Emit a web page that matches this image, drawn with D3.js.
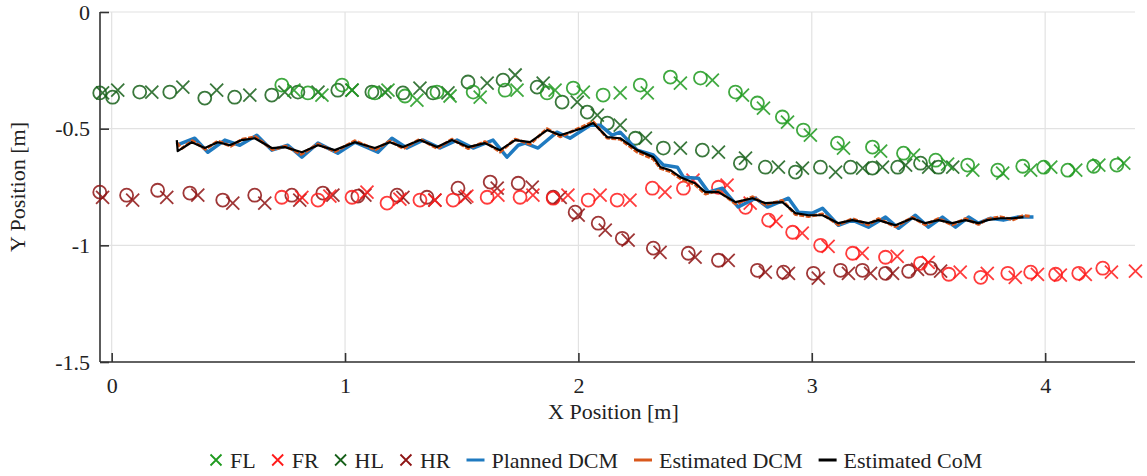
<!DOCTYPE html>
<html>
<head>
<meta charset="utf-8">
<script src="https://cdn.jsdelivr.net/npm/d3@7"></script>
<style>
  body { margin: 0; background: #fff; }
  text { font-family: "Liberation Serif", "Tinos", "Times New Roman", "DejaVu Serif", serif; fill: #222; }
</style>
</head>
<body>
<div id="chart"></div>
<script>
var svgWidth = 1147;
var svgHeight = 476;
var serifFont = "'Liberation Serif', 'Tinos', 'Times New Roman', 'DejaVu Serif', serif";

var margin = { top: 12, right: 12, bottom: 114, left: 100 };

// tick values
var xTicks = [0, 1, 2, 3, 4];
var yTicks = [0, -0.5, -1, -1.5];
var yTickLabels = ["0", "-0.5", "-1", "-1.5"];

// footholds: circles = o markers, crosses = x markers  [x, y] in metres
var flCircles = [[0.729,-0.313],[0.841,-0.347],[0.987,-0.313],[1.128,-0.347],[1.257,-0.360],[1.394,-0.343],[1.549,-0.343],[1.686,-0.335],[1.866,-0.347],[1.978,-0.326],[2.106,-0.356],[2.265,-0.313],[2.394,-0.279],[2.523,-0.283],[2.673,-0.343],[2.767,-0.390],[2.874,-0.450],[2.964,-0.506],[3.110,-0.562],[3.260,-0.579],[3.393,-0.605],[3.531,-0.635],[3.668,-0.656],[3.797,-0.678],[3.904,-0.661],[3.994,-0.665],[4.097,-0.678],[4.208,-0.661],[4.307,-0.656]];
var flCrosses = [[0.781,-0.335],[0.901,-0.356],[1.030,-0.335],[1.184,-0.335],[1.308,-0.378],[1.450,-0.360],[1.579,-0.365],[1.737,-0.335],[1.900,-0.335],[2.021,-0.343],[2.179,-0.347],[2.295,-0.347],[2.437,-0.305],[2.574,-0.292],[2.703,-0.356],[2.793,-0.412],[2.896,-0.472],[2.994,-0.528],[3.136,-0.583],[3.295,-0.596],[3.436,-0.613],[3.582,-0.652],[3.690,-0.678],[3.818,-0.691],[3.938,-0.678],[4.024,-0.665],[4.131,-0.678],[4.230,-0.656],[4.337,-0.648]];

var frCircles = [[0.729,-0.794],[0.884,-0.806],[1.030,-0.794],[1.180,-0.819],[1.321,-0.806],[1.463,-0.806],[1.609,-0.794],[1.750,-0.794],[1.892,-0.798],[2.042,-0.806],[2.166,-0.806],[2.317,-0.755],[2.450,-0.755],[2.600,-0.751],[2.716,-0.837],[2.815,-0.892],[2.918,-0.944],[3.038,-1.000],[3.175,-1.034],[3.316,-1.051],[3.466,-1.077],[3.587,-1.124],[3.724,-1.137],[3.840,-1.120],[3.938,-1.115],[4.045,-1.124],[4.144,-1.120],[4.247,-1.098]];
var frCrosses = [[0.815,-0.794],[0.935,-0.789],[1.094,-0.772],[1.235,-0.802],[1.385,-0.806],[1.522,-0.789],[1.655,-0.785],[1.805,-0.785],[1.955,-0.785],[2.093,-0.785],[2.221,-0.806],[2.371,-0.772],[2.491,-0.721],[2.637,-0.742],[2.736,-0.819],[2.847,-0.897],[2.959,-0.948],[3.070,-1.004],[3.216,-1.034],[3.366,-1.047],[3.499,-1.073],[3.636,-1.115],[3.752,-1.120],[3.872,-1.137],[3.967,-1.124],[4.065,-1.128],[4.172,-1.124],[4.284,-1.115],[4.387,-1.111]];

var hlCircles = [[-0.051,-0.347],[0.004,-0.365],[0.120,-0.343],[0.249,-0.343],[0.399,-0.369],[0.527,-0.365],[0.686,-0.356],[0.798,-0.343],[0.969,-0.335],[1.115,-0.343],[1.248,-0.347],[1.377,-0.347],[1.527,-0.300],[1.677,-0.292],[1.823,-0.322],[1.930,-0.386],[2.038,-0.429],[2.124,-0.476],[2.244,-0.541],[2.364,-0.583],[2.531,-0.592],[2.694,-0.648],[2.801,-0.665],[2.930,-0.686],[3.037,-0.665],[3.166,-0.665],[3.260,-0.669],[3.368,-0.665],[3.466,-0.648],[3.543,-0.665]];
var hlCrosses = [[-0.039,-0.347],[0.026,-0.335],[0.172,-0.343],[0.305,-0.322],[0.450,-0.335],[0.592,-0.356],[0.742,-0.343],[0.884,-0.343],[1.030,-0.335],[1.171,-0.343],[1.321,-0.326],[1.441,-0.347],[1.609,-0.305],[1.729,-0.270],[1.849,-0.305],[1.995,-0.386],[2.081,-0.442],[2.179,-0.485],[2.287,-0.541],[2.437,-0.583],[2.600,-0.601],[2.716,-0.626],[2.857,-0.665],[2.960,-0.669],[3.102,-0.686],[3.218,-0.669],[3.303,-0.665],[3.402,-0.656],[3.501,-0.665],[3.604,-0.665]];

var hrCircles = [[-0.051,-0.772],[0.064,-0.785],[0.197,-0.764],[0.335,-0.776],[0.476,-0.806],[0.613,-0.785],[0.772,-0.785],[0.905,-0.776],[1.055,-0.789],[1.223,-0.785],[1.351,-0.794],[1.484,-0.755],[1.622,-0.729],[1.742,-0.734],[1.892,-0.794],[1.986,-0.858],[2.085,-0.905],[2.188,-0.970],[2.321,-1.012],[2.471,-1.034],[2.600,-1.064],[2.767,-1.107],[2.879,-1.115],[3.007,-1.120],[3.123,-1.107],[3.217,-1.107],[3.316,-1.120],[3.415,-1.111],[3.509,-1.098]];
var hrCrosses = [[-0.039,-0.794],[0.090,-0.806],[0.236,-0.794],[0.369,-0.785],[0.519,-0.819],[0.656,-0.819],[0.806,-0.806],[0.948,-0.785],[1.085,-0.785],[1.248,-0.794],[1.385,-0.806],[1.514,-0.794],[1.652,-0.755],[1.802,-0.751],[1.922,-0.794],[1.999,-0.871],[2.115,-0.935],[2.213,-0.978],[2.350,-1.030],[2.500,-1.051],[2.642,-1.064],[2.801,-1.115],[2.900,-1.120],[3.028,-1.141],[3.157,-1.120],[3.252,-1.120],[3.346,-1.120],[3.453,-1.103],[3.552,-1.111]];

// trajectories
var plannedDcm = [[0.279,-0.571],[0.356,-0.541],[0.412,-0.601],[0.485,-0.549],[0.549,-0.571],[0.622,-0.528],[0.686,-0.592],[0.755,-0.571],[0.815,-0.622],[0.884,-0.562],[0.969,-0.605],[1.042,-0.558],[1.141,-0.601],[1.201,-0.541],[1.265,-0.583],[1.334,-0.549],[1.407,-0.583],[1.480,-0.549],[1.549,-0.583],[1.634,-0.549],[1.694,-0.622],[1.742,-0.571],[1.772,-0.562],[1.827,-0.583],[1.908,-0.515],[1.964,-0.541],[2.050,-0.485],[2.093,-0.485],[2.144,-0.528],[2.179,-0.515],[2.252,-0.592],[2.321,-0.613],[2.364,-0.656],[2.424,-0.665],[2.450,-0.708],[2.514,-0.712],[2.557,-0.772],[2.617,-0.755],[2.685,-0.836],[2.758,-0.798],[2.810,-0.836],[2.900,-0.798],[2.943,-0.858],[3.003,-0.862],[3.046,-0.841],[3.114,-0.914],[3.174,-0.892],[3.243,-0.922],[3.316,-0.879],[3.372,-0.927],[3.444,-0.871],[3.500,-0.922],[3.560,-0.879],[3.616,-0.922],[3.672,-0.879],[3.714,-0.905],[3.765,-0.884],[3.821,-0.892],[3.881,-0.879],[3.950,-0.879]];

var estimatedDcm = [[0.279,-0.560],[0.300,-0.585],[0.345,-0.552],[0.402,-0.588],[0.455,-0.553],[0.510,-0.575],[0.560,-0.545],[0.615,-0.535],[0.690,-0.590],[0.745,-0.575],[0.812,-0.610],[0.884,-0.566],[0.958,-0.598],[1.042,-0.552],[1.130,-0.590],[1.192,-0.553],[1.250,-0.585],[1.321,-0.545],[1.396,-0.585],[1.458,-0.545],[1.527,-0.585],[1.600,-0.556],[1.664,-0.600],[1.729,-0.545],[1.793,-0.566],[1.866,-0.500],[1.922,-0.535],[2.016,-0.492],[2.063,-0.470],[2.123,-0.540],[2.179,-0.545],[2.252,-0.600],[2.321,-0.630],[2.351,-0.670],[2.394,-0.684],[2.437,-0.714],[2.500,-0.740],[2.544,-0.780],[2.600,-0.766],[2.673,-0.822],[2.746,-0.792],[2.801,-0.826],[2.874,-0.808],[2.930,-0.868],[2.986,-0.876],[3.046,-0.866],[3.114,-0.912],[3.174,-0.886],[3.243,-0.912],[3.285,-0.886],[3.358,-0.920],[3.431,-0.880],[3.486,-0.912],[3.543,-0.886],[3.602,-0.912],[3.658,-0.886],[3.714,-0.910],[3.752,-0.888],[3.808,-0.878],[3.864,-0.890],[3.907,-0.872],[3.935,-0.876]];

var estimatedCom = [[0.279,-0.549],[0.283,-0.596],[0.343,-0.558],[0.399,-0.583],[0.455,-0.558],[0.506,-0.571],[0.557,-0.549],[0.613,-0.541],[0.686,-0.583],[0.742,-0.579],[0.815,-0.601],[0.884,-0.571],[0.956,-0.592],[1.042,-0.558],[1.128,-0.583],[1.192,-0.558],[1.248,-0.579],[1.321,-0.549],[1.394,-0.579],[1.458,-0.549],[1.527,-0.579],[1.600,-0.562],[1.664,-0.592],[1.729,-0.549],[1.793,-0.558],[1.866,-0.506],[1.922,-0.528],[2.016,-0.498],[2.063,-0.476],[2.123,-0.536],[2.179,-0.541],[2.252,-0.592],[2.321,-0.622],[2.351,-0.665],[2.394,-0.678],[2.437,-0.708],[2.500,-0.734],[2.544,-0.772],[2.600,-0.772],[2.673,-0.815],[2.746,-0.798],[2.801,-0.819],[2.874,-0.815],[2.930,-0.862],[2.986,-0.871],[3.046,-0.871],[3.114,-0.905],[3.174,-0.892],[3.243,-0.905],[3.285,-0.892],[3.358,-0.914],[3.431,-0.884],[3.486,-0.905],[3.543,-0.892],[3.602,-0.905],[3.658,-0.892],[3.714,-0.905],[3.752,-0.892],[3.808,-0.884],[3.864,-0.884],[3.907,-0.879]];

var colors = {
  FL: "#1f9a1f",
  FR: "#ff1a1a",
  HL: "#17601a",
  HR: "#8e1414",
  planned: "#1f7ac0",
  estDcm: "#d9581c",
  com: "#000000"
};

var width = svgWidth - margin.left - margin.right;
var height = svgHeight - margin.top - margin.bottom;

var svg = d3.select("#chart")
  .append("svg")
  .attr("width", svgWidth)
  .attr("height", svgHeight);

var chartGroup = svg.append("g")
  .attr("transform", `translate(${margin.left}, ${margin.top})`);

var xScale = d3.scaleLinear().domain([-0.05, 4.385]).range([0, width]);
var yScale = d3.scaleLinear().domain([-1.5, 0]).range([height, 0]);

// grid
chartGroup.append("g")
  .selectAll("line")
  .data(xTicks)
  .enter()
  .append("line")
  .attr("x1", d => xScale(d)).attr("x2", d => xScale(d))
  .attr("y1", 0).attr("y2", height)
  .attr("stroke", "#e2e2e2").attr("stroke-width", 1.2);

chartGroup.append("g")
  .selectAll("line")
  .data(yTicks)
  .enter()
  .append("line")
  .attr("x1", 0).attr("x2", width)
  .attr("y1", d => yScale(d)).attr("y2", d => yScale(d))
  .attr("stroke", "#e2e2e2").attr("stroke-width", 1.2);

// axes, ticks pointing inward
var bottomAxis = d3.axisBottom(xScale).tickValues(xTicks).tickSize(-9).tickPadding(15).tickFormat(d3.format("d"));
var leftAxis = d3.axisLeft(yScale).tickValues(yTicks).tickSize(-9).tickPadding(10)
  .tickFormat((d, i) => yTickLabels[i]);

var xAxis = chartGroup.append("g")
  .attr("transform", `translate(0, ${height})`)
  .call(bottomAxis);
var yAxis = chartGroup.append("g")
  .call(leftAxis);

[xAxis, yAxis].forEach(function(ax) {
  ax.attr("font-family", serifFont);
  ax.select(".domain").attr("stroke", "#333").attr("stroke-width", 1.6);
  ax.selectAll(".tick line").attr("stroke", "#333").attr("stroke-width", 1.6);
  ax.selectAll(".tick text")
    .style("font-family", serifFont)
    .style("font-size", "22px")
    .attr("fill", "#333");
});
xAxis.select(".domain").attr("d", `M0,0H${width}`);
yAxis.select(".domain").attr("d", `M0,0V${height}`);

// markers
function drawCircles(data, color) {
  chartGroup.append("g")
    .selectAll("circle")
    .data(data)
    .enter()
    .append("circle")
    .attr("cx", d => xScale(d[0]))
    .attr("cy", d => yScale(d[1]))
    .attr("r", 6.5)
    .attr("fill", "none")
    .attr("stroke", color)
    .attr("stroke-width", 1.8)
    .attr("opacity", 0.85);
}

function crossPath(cx, cy, s) {
  return `M${cx - s},${cy - s}L${cx + s},${cy + s}M${cx - s},${cy + s}L${cx + s},${cy - s}`;
}

function drawCrosses(data, color) {
  chartGroup.append("g")
    .selectAll("path")
    .data(data)
    .enter()
    .append("path")
    .attr("d", d => crossPath(xScale(d[0]), yScale(d[1]), 6.5))
    .attr("fill", "none")
    .attr("stroke", color)
    .attr("stroke-width", 1.8)
    .attr("opacity", 0.85);
}

drawCircles(hrCircles, colors.HR);
drawCrosses(hrCrosses, colors.HR);
drawCircles(frCircles, colors.FR);
drawCrosses(frCrosses, colors.FR);
drawCircles(hlCircles, colors.HL);
drawCrosses(hlCrosses, colors.HL);
drawCircles(flCircles, colors.FL);
drawCrosses(flCrosses, colors.FL);

// trajectories
var line = d3.line().x(d => xScale(d[0])).y(d => yScale(d[1]));

chartGroup.append("path")
  .datum(plannedDcm)
  .attr("d", line)
  .attr("fill", "none")
  .attr("stroke", colors.planned)
  .attr("stroke-width", 3.5)
  .attr("stroke-linejoin", "round");

chartGroup.append("path")
  .datum(estimatedDcm)
  .attr("d", line)
  .attr("fill", "none")
  .attr("stroke", colors.estDcm)
  .attr("stroke-width", 3)
  .attr("stroke-dasharray", "5,1.5")
  .attr("stroke-linejoin", "round");

chartGroup.append("path")
  .datum(estimatedCom)
  .attr("d", line)
  .attr("fill", "none")
  .attr("stroke", colors.com)
  .attr("stroke-width", 2.2)
  .attr("stroke-linejoin", "round");

// axis labels
svg.append("text")
  .attr("x", margin.left + xScale(2.15))
  .attr("y", 419)
  .attr("text-anchor", "middle")
  .style("font-family", serifFont)
  .style("font-size", "22px")
  .text("X Position [m]");

svg.append("text")
  .attr("transform", `translate(25, ${margin.top + yScale(-0.75)}) rotate(-90)`)
  .attr("text-anchor", "middle")
  .style("font-family", serifFont)
  .style("font-size", "22px")
  .text("Y Position [m]");

// legend
var legendItems = [
  { label: "FL", color: colors.FL, type: "cross" },
  { label: "FR", color: colors.FR, type: "cross" },
  { label: "HL", color: colors.HL, type: "cross" },
  { label: "HR", color: colors.HR, type: "cross" },
  { label: "Planned DCM", color: colors.planned, type: "line" },
  { label: "Estimated DCM", color: colors.estDcm, type: "line" },
  { label: "Estimated CoM", color: colors.com, type: "line" }
];

var legend = svg.append("g");
var cursor = 208;
var legendY = 461;
legendItems.forEach(function(item) {
  var textX;
  if (item.type === "cross") {
    legend.append("path")
      .attr("d", crossPath(cursor + 8, legendY - 1, 5.5))
      .attr("stroke", item.color)
      .attr("stroke-width", 1.8)
      .attr("fill", "none");
    textX = cursor + 22;
  } else {
    legend.append("line")
      .attr("x1", cursor + 2).attr("x2", cursor + 20)
      .attr("y1", legendY - 1).attr("y2", legendY - 1)
      .attr("stroke", item.color)
      .attr("stroke-width", 3);
    textX = cursor + 27;
  }
  var t = legend.append("text")
    .attr("x", textX)
    .attr("y", legendY + 7)
    .style("font-family", serifFont)
    .style("font-size", "22px")
    .text(item.label);
  cursor = textX + t.node().getComputedTextLength() + 14;
});
</script>
</body>
</html>
